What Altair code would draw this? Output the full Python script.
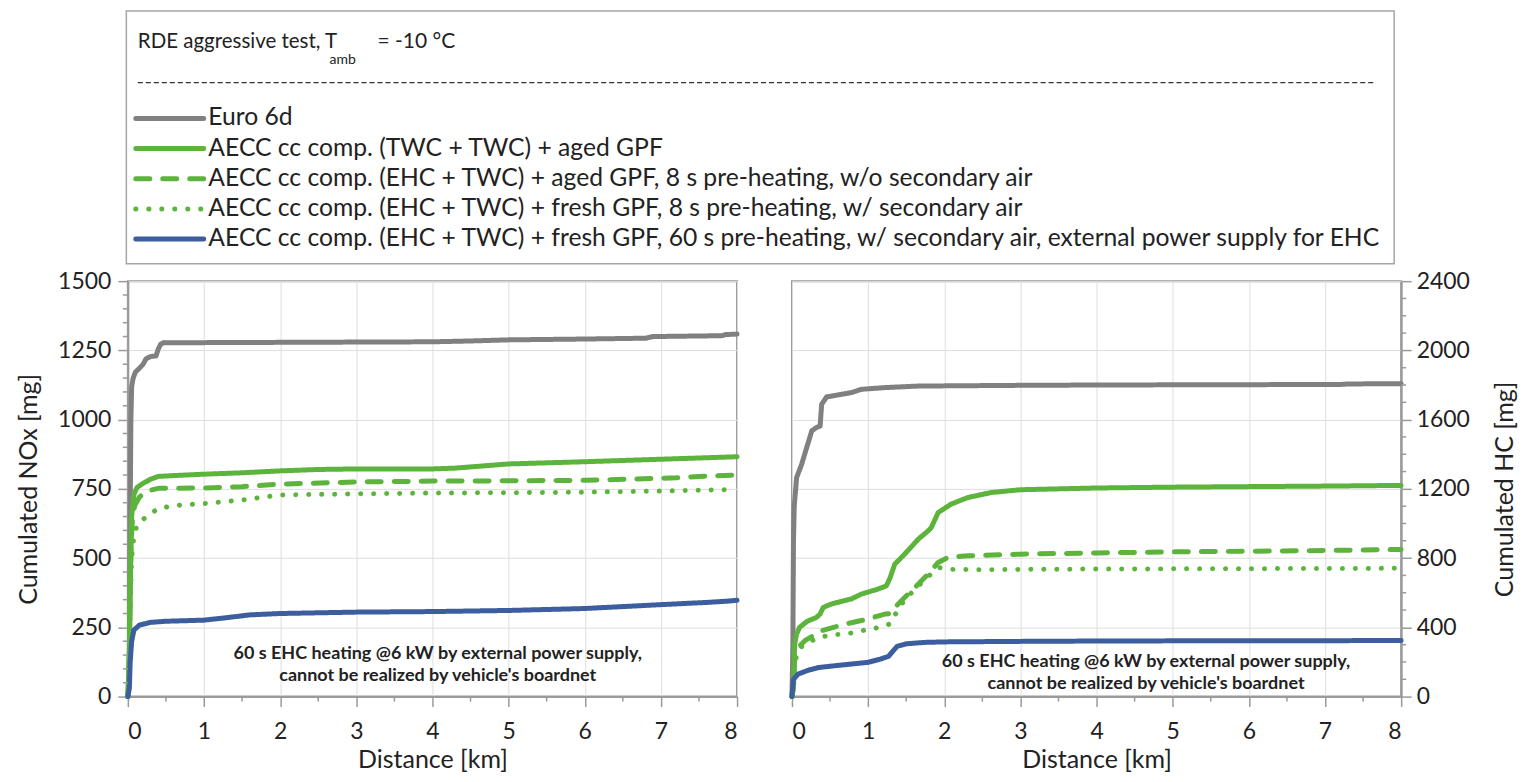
import altair as alt
import pandas as pd

# ---------------- data ----------------
series_names = [
    "Euro 6d",
    "AECC cc comp. (TWC + TWC) + aged GPF",
    "AECC cc comp. (EHC + TWC) + aged GPF, 8 s pre-heating, w/o secondary air",
    "AECC cc comp. (EHC + TWC) + fresh GPF, 8 s pre-heating, w/ secondary air",
    "AECC cc comp. (EHC + TWC) + fresh GPF, 60 s pre-heating, w/ secondary air, external power supply for EHC",
]
series_colors = ["#808080", "#5DB43C", "#5DB43C", "#5DB43C", "#3D5E9E"]
series_dashes = [[1, 0], [1, 0], [14, 13], [0.1, 12.9], [1, 0]]

# Cumulated NOx [mg] vs distance [km]
nox_euro_km = [0, 0.015, 0.025, 0.032, 0.04, 0.05, 0.07, 0.1, 0.15, 0.2, 0.24, 0.3, 0.37, 0.4, 0.43, 0.47, 1, 2, 3, 4, 4.5, 5, 6, 6.8, 6.9, 7.8, 7.85, 8]
nox_euro_mg = [0, 50, 300, 700, 1000, 1120, 1150, 1172, 1185, 1200, 1220, 1228, 1230, 1255, 1272, 1278, 1278, 1279, 1280, 1281, 1284, 1288, 1291, 1294, 1300, 1303, 1307, 1309]
nox_twc_km = [0, 0.02, 0.035, 0.05, 0.08, 0.12, 0.2, 0.3, 0.4, 0.6, 1, 1.5, 2, 2.5, 3, 4, 4.3, 5, 6, 7, 8]
nox_twc_mg = [0, 150, 450, 650, 730, 755, 770, 785, 795, 798, 803, 808, 815, 820, 822, 822, 825, 840, 848, 857, 866]
nox_ehc_aged_km = [0, 0.02, 0.03, 0.045, 0.06, 0.09, 0.15, 0.25, 0.4, 1, 1.5, 2, 3, 4, 5, 6, 6.6, 7.2, 7.5, 8]
nox_ehc_aged_mg = [0, 150, 400, 560, 640, 690, 720, 742, 752, 753, 758, 767, 775, 778, 779, 781, 785, 790, 795, 800]
nox_ehc_fresh_km = [0, 0.02, 0.03, 0.05, 0.08, 0.12, 0.2, 0.3, 0.4, 0.7, 1, 1.5, 2, 3, 4, 5, 6, 7, 8]
nox_ehc_fresh_mg = [0, 100, 300, 500, 580, 620, 640, 660, 680, 692, 697, 710, 728, 732, 735, 736, 738, 742, 748]
nox_ext_km = [0, 0.02, 0.03, 0.05, 0.08, 0.15, 0.3, 0.5, 1, 1.3, 1.6, 2, 3, 4, 5, 6, 7, 7.6, 7.9, 8]
nox_ext_mg = [0, 30, 120, 200, 240, 258, 268, 272, 276, 285, 295, 300, 305, 307, 311, 318, 332, 340, 345, 348]

# Cumulated HC [mg] vs distance [km]
hc_euro_km = [0, 0.012, 0.02, 0.03, 0.061, 0.127, 0.26, 0.32, 0.37, 0.39, 0.455, 0.78, 0.91, 1.22, 1.66, 2.97, 4, 5, 6, 7.2, 7.3, 8]
hc_euro_mg = [0, 300, 900, 1100, 1265, 1342, 1535, 1554, 1563, 1689, 1731, 1756, 1775, 1785, 1794, 1798, 1800, 1801, 1802, 1803, 1806, 1808]
hc_twc_km = [0, 0.02, 0.035, 0.06, 0.1, 0.2, 0.32, 0.37, 0.41, 0.52, 0.78, 0.91, 1.13, 1.24, 1.29, 1.35, 1.48, 1.66, 1.79, 1.83, 1.92, 2.09, 2.31, 2.62, 3, 4, 5, 6, 7, 8]
hc_twc_mg = [0, 50, 300, 360, 400, 435, 457, 477, 515, 535, 564, 592, 621, 640, 688, 765, 823, 910, 958, 977, 1063, 1112, 1150, 1179, 1195, 1205, 1210, 1213, 1216, 1220]
hc_ehc_aged_km = [0, 0.02, 0.04, 0.17, 0.39, 0.7, 1.0, 1.22, 1.3, 1.35, 1.48, 1.66, 1.83, 1.92, 2.05, 2.31, 3, 4, 5, 6, 7, 8]
hc_ehc_aged_mg = [0, 60, 265, 323, 381, 419, 448, 477, 480, 515, 573, 650, 727, 775, 804, 813, 823, 830, 836, 840, 844, 850]
hc_ehc_fresh_km = [0, 0.02, 0.04, 0.08, 0.15, 0.35, 0.54, 0.72, 0.91, 1.13, 1.29, 1.35, 1.48, 1.66, 1.83, 1.93, 2.1, 2.5, 3, 4, 5, 6, 7, 8]
hc_ehc_fresh_mg = [0, 50, 200, 265, 300, 342, 358, 362, 380, 398, 420, 470, 560, 640, 710, 745, 735, 733, 735, 737, 738, 739, 740, 741]
hc_ext_km = [0, 0.01, 0.02, 0.08, 0.2, 0.35, 0.6, 0.78, 1.0, 1.15, 1.27, 1.32, 1.38, 1.5, 1.74, 2, 3, 4, 5, 6, 7, 8]
hc_ext_mg = [0, 60, 100, 130, 150, 168, 180, 188, 198, 215, 233, 260, 290, 305, 313, 316, 319, 321, 322, 323, 323, 324]

annotation_lines = [
    "60 s EHC heating @6 kW by external power supply,",
    "cannot be realized by vehicle's boardnet",
]
nox_ticks = [0, 250, 500, 750, 1000, 1250, 1500]
hc_ticks = [0, 400, 800, 1200, 1600, 2000, 2400]
km_ticks = [0, 1, 2, 3, 4, 5, 6, 7, 8]
nox_minor = [v for v in range(0, 1501, 50) if v % 250]
hc_minor = [v for v in range(0, 2401, 100) if v % 400]
km_minor = [0.5, 1.5, 2.5, 3.5, 4.5, 5.5, 6.5, 7.5]


def long_df(pairs):
    rows = []
    for name, kms, mgs in pairs:
        for k, m in zip(kms, mgs):
            rows.append({"series": name, "km": k, "mg": m})
    return pd.DataFrame(rows)


nox_df = long_df([
    (series_names[0], nox_euro_km, nox_euro_mg),
    (series_names[1], nox_twc_km, nox_twc_mg),
    (series_names[2], nox_ehc_aged_km, nox_ehc_aged_mg),
    (series_names[3], nox_ehc_fresh_km, nox_ehc_fresh_mg),
    (series_names[4], nox_ext_km, nox_ext_mg),
])
hc_df = long_df([
    (series_names[0], hc_euro_km, hc_euro_mg),
    (series_names[1], hc_twc_km, hc_twc_mg),
    (series_names[2], hc_ehc_aged_km, hc_ehc_aged_mg),
    (series_names[3], hc_ehc_fresh_km, hc_ehc_fresh_mg),
    (series_names[4], hc_ext_km, hc_ext_mg),
])

# ---------------- style ----------------
FONT = "Lato"
TXT = "#222222"
AXC = "#9a9a9a"
W, H = 610, 416

color_scale = alt.Scale(domain=series_names, range=series_colors)
dash_scale = alt.Scale(domain=series_names, range=series_dashes)
x_scale = alt.Scale(domain=[0, 8], nice=False, zero=False)


def panel(df, y_max, y_ticks, y_minor, y_title, orient, ann_km, ann_mg):
    y_scale = alt.Scale(domain=[0, y_max], nice=False)
    xax = alt.Axis(values=km_ticks, title="Distance [km]", tickSize=10, labelPadding=14,
                   titlePadding=4, format="d")
    if orient == "left":
        yax = alt.Axis(values=y_ticks, title=y_title, orient="left", tickSize=10, labelPadding=7,
                       titlePadding=16, titleAngle=270, titleBaseline="bottom", format="d")
        mx, mx2 = -5, 0
    else:
        yax = alt.Axis(values=y_ticks, title=y_title, orient="right", tickSize=10, labelPadding=5,
                       titlePadding=23, titleAngle=270, titleBaseline="top", format="d")
        mx, mx2 = W, W + 5

    lines = alt.Chart(df).mark_line(strokeWidth=5, strokeCap="round", strokeJoin="round").encode(
        x=alt.X("km:Q", scale=x_scale, axis=xax),
        y=alt.Y("mg:Q", scale=y_scale, axis=yax),
        color=alt.Color("series:N", scale=color_scale, legend=None),
        strokeDash=alt.StrokeDash("series:N", scale=dash_scale, legend=None),
    )
    ymin = alt.Chart(pd.DataFrame({"mg": y_minor})).mark_rule(color=AXC, strokeWidth=1.5).encode(
        y=alt.Y("mg:Q", scale=y_scale, axis=yax),
        x=alt.value(mx), x2=alt.value(mx2),
    )
    xmin = alt.Chart(pd.DataFrame({"km": km_minor})).mark_rule(color=AXC, strokeWidth=1.5).encode(
        x=alt.X("km:Q", scale=x_scale, axis=xax),
        y=alt.value(H), y2=alt.value(H + 5),
    )
    ann = alt.Chart(pd.DataFrame({"t": annotation_lines, "km": [ann_km, ann_km], "mg": ann_mg})).mark_text(
        font=FONT, fontSize=18, fontWeight="bold", color=TXT, align="center", baseline="middle"
    ).encode(
        x=alt.X("km:Q", scale=x_scale, axis=xax),
        y=alt.Y("mg:Q", scale=y_scale, axis=yax),
        text="t:N",
    )
    return alt.layer(lines, ymin, xmin, ann).properties(width=W, height=H)


left = panel(nox_df, 1500, nox_ticks, nox_minor, "Cumulated NOx [mg]", "left", 4.07, [154, 76])
right = panel(hc_df, 2400, hc_ticks, hc_minor, "Cumulated HC [mg]", "right", 4.65, [198, 73])

# ---------------- legend panel ----------------
LW, LH = 1268, 256
one = pd.DataFrame({"a": [0]})
anchor = alt.Chart(one).mark_rect(opacity=0).encode(
    x=alt.value(-119), x2=alt.value(-118), y=alt.value(0), y2=alt.value(1))
box = alt.Chart(one).mark_rect(fill="white", stroke="#a6a6a6", strokeWidth=1.5).encode(
    x=alt.value(-1.5), x2=alt.value(1268), y=alt.value(1.6), y2=alt.value(254.7))
t1 = alt.Chart(one).mark_text(font=FONT, fontSize=20.5, color=TXT, align="left", baseline="middle",
                              text="RDE aggressive test, T").encode(x=alt.value(10), y=alt.value(33))
t2 = alt.Chart(one).mark_text(font=FONT, fontSize=14, color=TXT, align="left", baseline="middle",
                              text="amb").encode(x=alt.value(202), y=alt.value(50.5))
t3 = alt.Chart(one).mark_text(font=FONT, fontSize=21, color=TXT, align="left", baseline="middle",
                              text="= -10 °C").encode(x=alt.value(250), y=alt.value(33))
sep = alt.Chart(one).mark_rule(color="#333333", strokeWidth=1.2, strokeDash=[5, 3]).encode(
    x=alt.value(10), x2=alt.value(1250), y=alt.value(73.2))

leg_df = pd.DataFrame({"series": series_names, "idx": list(range(len(series_names)))})
leg_base = alt.Chart(leg_df).transform_calculate(ypix="109.1 + datum.idx * 30.2")
leg_lines = leg_base.mark_rule(strokeWidth=5, strokeCap="round").encode(
    x=alt.value(8), x2=alt.value(76),
    y=alt.Y("ypix:Q", scale=None),
    color=alt.Color("series:N", scale=color_scale, legend=None),
    strokeDash=alt.StrokeDash("series:N", scale=dash_scale, legend=None),
)
leg_text = leg_base.mark_text(font=FONT, fontSize=24.7, color=TXT, align="left", baseline="middle").encode(
    x=alt.value(80.6), y=alt.Y("ypix:Q", scale=None), text="series:N")

legend_panel = alt.layer(anchor, box, t1, t2, t3, sep, leg_lines, leg_text).properties(
    width=LW, height=LH, view=alt.ViewBackground(stroke="transparent"))

chart = alt.vconcat(
    legend_panel,
    alt.hconcat(left, right, spacing=55, bounds="flush"),
    spacing=16, bounds="flush",
).properties(padding=0).configure_view(
    stroke=AXC, strokeWidth=2
).configure_axis(
    labelFont=FONT, titleFont=FONT, labelFontSize=23, titleFontSize=25, labelColor=TXT, titleColor=TXT,
    titleFontWeight="normal", grid=True, gridColor="#dedede", gridWidth=1,
    domainColor=AXC, domainWidth=2, tickColor=AXC, tickWidth=1.5,
)

chart.save("out.html", embed_options={"renderer": "svg", "actions": False})
